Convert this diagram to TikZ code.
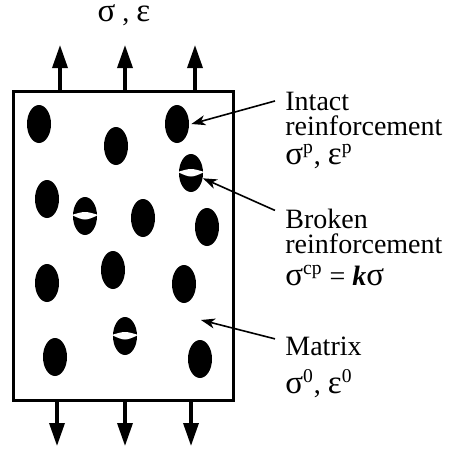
\documentclass[tikz,border=0pt]{standalone}
\usepackage{fontspec}
\setmainfont{Liberation Serif}
\usetikzlibrary{arrows.meta,calc,positioning,shapes.geometric}
\newcommand\gk[1]{{\fontsize{16.5}{16}\selectfont #1}}

\begin{document}
\begin{tikzpicture}[x=.5pt,y=-.5pt,font=\fontsize{14}{16}\selectfont,
  fiber/.style={ellipse,fill=black,inner sep=0,minimum width=12pt,minimum height=19pt},
  load/.style={line width=1.7pt,-{Triangle[length=11.5pt,width=7.5pt]}},
  lead/.style={line width=.8pt,-{Stealth[length=7pt,width=5pt,inset=2pt]}},
  lbl/.style={anchor=base west,inner xsep=5pt,inner ysep=0pt}]
\useasboundingbox (0,0) rectangle (455,451);
\node[draw,line width=1.5pt,inner sep=0,minimum width=110pt,minimum height=154.5pt,anchor=north west] (box) at (12,90) {};
\node[anchor=base,inner sep=0,text height=8pt] (load) at (124,21) {\gk{σ} , \gk{ε}};
% reinforcement
\foreach \n/\x/\y in {1/39/124,2/116/146,3/177/124,4/191/173,5/47/199,6/85/216,7/143/218,
  8/207/227,9/47/283,10/113/270,11/184/284,12/125/336,13/55/357,14/200/359}
  \node[fiber] (f\n) at (\x,\y) {};
\foreach \f in {f4,f6,f12}
  \fill[white] ($(\f.west)+(-1,-1)$) .. controls ($(\f.center)+(0,-5)$) .. ($(\f.east)+(1,-1)$)
    .. controls ($(\f.center)+(0,5)$) .. ($(\f.west)+(-1,-1)$);
% applied load
\foreach \n/\x in {a/60,b/125,c/195}{
  \coordinate (up\n) at (\x,45);
  \draw[load] (box.north -| up\n) -- (up\n);}
\foreach \n/\x in {a/57,b/125,c/191}{
  \coordinate (dn\n) at (\x,446);
  \draw[load] (box.south -| dn\n) -- (dn\n);}
% labels
\node[lbl] (intact) at (275,110) {Intact};
\node[lbl] (intact2) at (275,135) {reinforcement};
\node[lbl] (intact3) at (275,164) {\gk{σ}\textsuperscript{p}, \gk{ε}\textsuperscript{p}};
\node[lbl] (broken) at (275,228) {Broken};
\node[lbl] (broken2) at (275,253) {reinforcement};
\node[lbl] (broken3) at (275,285) {\gk{σ}\textsuperscript{cp} = \textbf{\textit{k}}\gk{σ}};
\node[lbl] (matrix) at (275,355) {Matrix};
\node[lbl] (matrix2) at (275,393) {\gk{σ}\textsuperscript{0}, \gk{ε}\textsuperscript{0}};
\coordinate (mtx) at (201,320);
\draw[lead] (intact.west) -- ([xshift=1pt]f3.east);
\draw[lead] ([yshift=4pt]broken.west) -- (f4.-24);
\draw[lead] ([yshift=3.5pt]matrix.west) -- (mtx);
\end{tikzpicture}
\end{document}
